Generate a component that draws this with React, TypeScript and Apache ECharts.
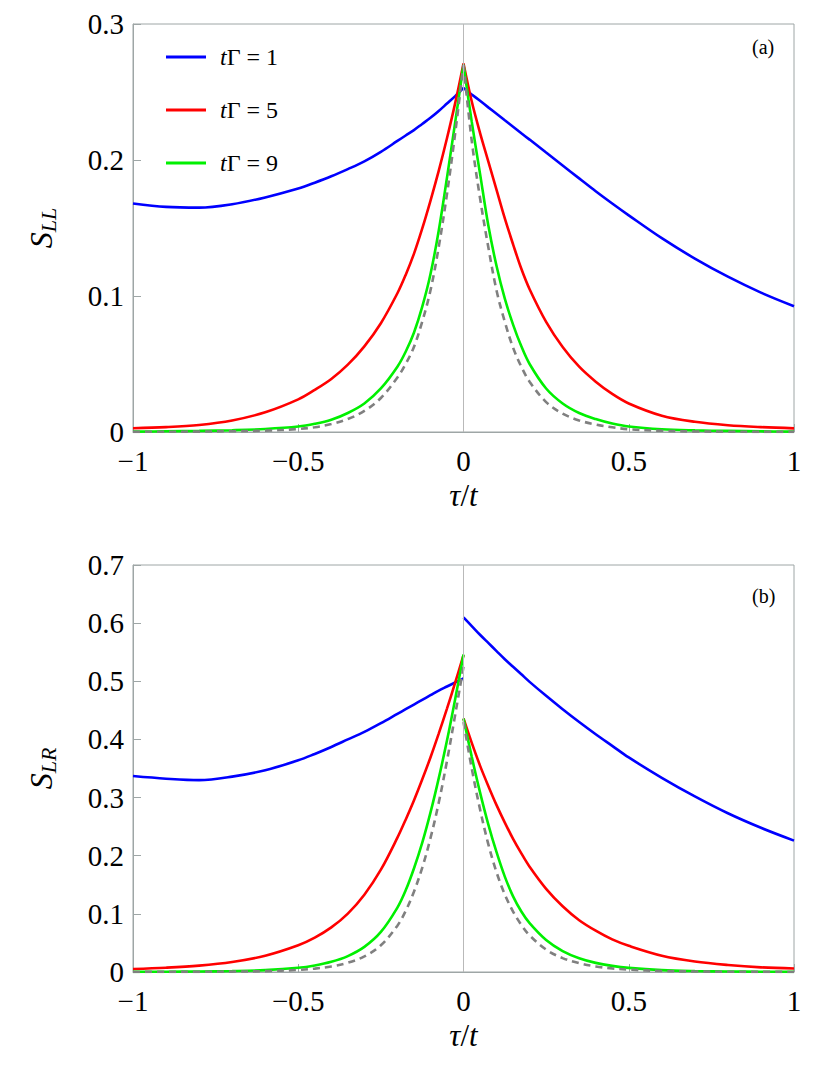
import React, { useEffect, useRef } from "react";
import * as echarts from "echarts";

// ---------- data ----------
const tauLeft = [-1, -0.9, -0.8, -0.7, -0.6, -0.5, -0.45, -0.4, -0.35, -0.3, -0.25, -0.2, -0.175, -0.15, -0.125, -0.1, -0.075, -0.05, -0.025, 0];
const tauRight = [0, 0.025, 0.05, 0.075, 0.1, 0.125, 0.15, 0.175, 0.2, 0.25, 0.3, 0.35, 0.4, 0.45, 0.5, 0.6, 0.7, 0.8, 0.9, 1];

// Panel (a): S_LL
const llBlueL = [0.168, 0.1655, 0.165, 0.1675, 0.1725, 0.179, 0.1833, 0.188, 0.1933, 0.199, 0.206, 0.214, 0.218, 0.222, 0.2265, 0.231, 0.236, 0.2415, 0.247, 0.253];
const llBlueR = [0.253, 0.2482, 0.2435, 0.2387, 0.234, 0.2292, 0.2245, 0.2197, 0.215, 0.2055, 0.196, 0.1865, 0.177, 0.168, 0.1593, 0.1425, 0.1275, 0.1142, 0.1025, 0.0925];
const llRedL = [0.0028, 0.0036, 0.0052, 0.0085, 0.0145, 0.024, 0.031, 0.039, 0.0495, 0.063, 0.08, 0.102, 0.1155, 0.131, 0.1495, 0.17, 0.192, 0.216, 0.242, 0.271];
const llRedR = [0.271, 0.243, 0.22, 0.199, 0.178, 0.157, 0.138, 0.12, 0.105, 0.081, 0.0625, 0.048, 0.037, 0.028, 0.021, 0.012, 0.0075, 0.005, 0.0036, 0.0027];
const llGreenL = [0.0003, 0.0005, 0.0008, 0.0013, 0.0022, 0.004, 0.006, 0.009, 0.014, 0.021, 0.032, 0.048, 0.059, 0.073, 0.092, 0.116, 0.148, 0.187, 0.228, 0.27];
const llGreenR = [0.27, 0.228, 0.19, 0.152, 0.122, 0.098, 0.079, 0.063, 0.05, 0.032, 0.021, 0.014, 0.0095, 0.0062, 0.004, 0.002, 0.0012, 0.0008, 0.0005, 0.0003];
const llGrayL = [0.0001, 0.0002, 0.0003, 0.0006, 0.001, 0.0022, 0.0035, 0.0058, 0.0095, 0.0155, 0.025, 0.04, 0.05, 0.0625, 0.081, 0.104, 0.136, 0.175, 0.22, 0.27];
const llGrayR = [0.27, 0.214, 0.172, 0.136, 0.104, 0.081, 0.062, 0.048, 0.037, 0.022, 0.0135, 0.0085, 0.0055, 0.0035, 0.002, 0.0009, 0.0004, 0.0002, 0.0001, 0.0001];

// Panel (b): S_LR
const lrBlueL = [0.337, 0.3325, 0.33, 0.336, 0.347, 0.364, 0.375, 0.387, 0.4, 0.413, 0.428, 0.444, 0.452, 0.46, 0.468, 0.476, 0.484, 0.491, 0.498, 0.505];
const lrBlueR = [0.61, 0.595, 0.58, 0.566, 0.552, 0.538, 0.525, 0.512, 0.499, 0.475, 0.452, 0.43, 0.409, 0.389, 0.369, 0.334, 0.302, 0.273, 0.248, 0.226];
const lrRedL = [0.0052, 0.0074, 0.011, 0.0173, 0.028, 0.046, 0.0591, 0.0767, 0.1005, 0.133, 0.176, 0.231, 0.262, 0.295, 0.331, 0.369, 0.41, 0.453, 0.498, 0.545];
const lrRedR = [0.436, 0.394, 0.355, 0.32, 0.287, 0.257, 0.229, 0.204, 0.181, 0.143, 0.113, 0.089, 0.071, 0.056, 0.045, 0.028, 0.018, 0.012, 0.008, 0.006];
const lrGreenL = [0.0003, 0.0005, 0.0008, 0.0016, 0.0033, 0.0073, 0.0113, 0.0175, 0.0274, 0.0432, 0.0689, 0.1108, 0.1404, 0.178, 0.222, 0.274, 0.333, 0.398, 0.47, 0.546];
const lrGreenR = [0.436, 0.37, 0.309, 0.254, 0.206, 0.164, 0.13, 0.104, 0.084, 0.055, 0.036, 0.0237, 0.0157, 0.0105, 0.0071, 0.0033, 0.0016, 0.0008, 0.0005, 0.0003];
const lrGrayL = [0.0001, 0.0002, 0.0003, 0.0007, 0.0015, 0.0036, 0.0058, 0.0095, 0.0159, 0.0268, 0.0459, 0.0797, 0.105, 0.138, 0.179, 0.23, 0.291, 0.363, 0.443, 0.525];
const lrGrayR = [0.43, 0.35, 0.28, 0.22, 0.1715, 0.1335, 0.104, 0.081, 0.063, 0.0385, 0.0239, 0.0151, 0.0096, 0.0062, 0.004, 0.0018, 0.0008, 0.0004, 0.0002, 0.0001];

const legendNames = ["tΓ = 1", "tΓ = 5", "tΓ = 9"];
const xTicks = [-1, -0.5, 0, 0.5, 1];
const panelLabels = ["(a)", "(b)"];

const SERIF = "Liberation Serif";
const FRAME = "#9ea6a6";
const BLUE = "#0000ff";
const RED = "#ff0000";
const GREEN = "#00f000";
const GRAY = "#808080";

const zip = (xs: number[], ys: number[]) => xs.map((x, i) => [x, ys[i]]);

const fmtX = (v: number) => (v === 0 ? "0" : v < 0 ? "\u2212" + String(-v) : String(v));
const fmtY = (v: number) => (Math.abs(v) < 1e-9 ? "0" : v.toFixed(1));

function curve(name: string | undefined, color: string, data: number[][], idx: number, dashed = false) {
  return {
    type: "line",
    name,
    xAxisIndex: idx,
    yAxisIndex: idx,
    data,
    showSymbol: false,
    symbol: "none",
    smooth: 0.35,
    color,
    itemStyle: { color },
    lineStyle: { color, width: 2.6, type: dashed ? [7, 5] : "solid" },
    z: 3,
    silent: true,
  };
}

function zeroLine(idx: number) {
  return {
    type: "line",
    xAxisIndex: idx,
    yAxisIndex: idx,
    data: [],
    z: 1,
    silent: true,
    markLine: {
      silent: true,
      symbol: "none",
      label: { show: false },
      lineStyle: { color: "#b9b9b9", width: 1, type: "solid" },
      data: [{ xAxis: 0 }],
      animation: false,
    },
  };
}

function xAxisCfg(idx: number) {
  return {
    type: "value",
    gridIndex: idx,
    min: -1,
    max: 1,
    interval: 0.5,
    name: "{i|τ}{n|/}{i|t}",
    nameLocation: "middle",
    nameGap: 48,
    nameTextStyle: {
      rich: {
        i: { fontFamily: SERIF, fontStyle: "italic", fontSize: 31, color: "#000" },
        n: { fontFamily: SERIF, fontSize: 31, color: "#000" },
      },
    },
    axisLine: { show: true, onZero: false, lineStyle: { color: FRAME, width: 1 } },
    axisTick: { show: true, inside: true, length: 8, lineStyle: { color: FRAME } },
    axisLabel: {
      formatter: fmtX,
      fontFamily: SERIF,
      fontSize: 29,
      color: "#000",
      margin: 14,
      customValues: xTicks,
    },
    splitLine: { show: false },
  };
}

function yAxisCfg(idx: number, max: number, sub: string) {
  return {
    type: "value",
    gridIndex: idx,
    min: 0,
    max,
    interval: 0.1,
    name: "{s|S}{b|" + sub + "}",
    nameLocation: "middle",
    nameGap: 74,
    nameRotate: 90,
    nameTextStyle: {
      rich: {
        s: { fontFamily: SERIF, fontStyle: "italic", fontSize: 32, color: "#000", lineHeight: 36 },
        b: { fontFamily: SERIF, fontStyle: "italic", fontSize: 22, color: "#000", lineHeight: 36, verticalAlign: "bottom" },
      },
    },
    axisLine: { show: true, onZero: false, lineStyle: { color: FRAME, width: 1 } },
    axisTick: { show: true, inside: true, length: 8, lineStyle: { color: FRAME } },
    axisLabel: { formatter: fmtY, fontFamily: SERIF, fontSize: 29, color: "#000", margin: 9 },
    splitLine: { show: false },
  };
}

export default function App() {
  const ref = useRef<HTMLDivElement>(null);

  useEffect(() => {
    if (!ref.current) return;
    const chart = echarts.init(ref.current, undefined, { renderer: "svg" });
    const option = {
      animation: false,
      backgroundColor: "#fff",
      textStyle: { fontFamily: SERIF },
      grid: [
        { left: 133, top: 24, width: 661, height: 408, show: true, borderColor: FRAME, borderWidth: 1, backgroundColor: "transparent" },
        { left: 133, top: 565, width: 661, height: 407, show: true, borderColor: FRAME, borderWidth: 1, backgroundColor: "transparent" },
      ],
      xAxis: [xAxisCfg(0), xAxisCfg(1)],
      yAxis: [yAxisCfg(0, 0.3, "LL"), yAxisCfg(1, 0.7, "LR")],
      legend: {
        data: legendNames,
        orient: "vertical",
        left: 161,
        top: 40,
        itemWidth: 40,
        itemHeight: 3,
        itemGap: 29,
        icon: "rect",
        selectedMode: false,
        formatter: (name: string) => "{i|t}{n|" + name.slice(1) + "}",
        textStyle: {
          fontFamily: SERIF,
          lineHeight: 24,
          rich: {
            i: { fontFamily: SERIF, fontStyle: "italic", fontSize: 24, color: "#000", padding: [0, 0, 0, 9], lineHeight: 24 },
            n: { fontFamily: SERIF, fontSize: 24, color: "#000", lineHeight: 24 },
          },
        },
      },
      graphic: [
        { type: "text", left: 752, top: 37, style: { text: panelLabels[0], font: "20px " + SERIF, fill: "#000" } },
        { type: "text", left: 752, top: 586, style: { text: panelLabels[1], font: "20px " + SERIF, fill: "#000" } },
      ],
      series: [
        zeroLine(0),
        zeroLine(1),
        curve(legendNames[0], BLUE, zip(tauLeft, llBlueL), 0),
        curve(legendNames[0], BLUE, zip(tauRight, llBlueR), 0),
        curve(legendNames[1], RED, zip(tauLeft, llRedL), 0),
        curve(legendNames[1], RED, zip(tauRight, llRedR), 0),
        curve(legendNames[2], GREEN, zip(tauLeft, llGreenL), 0),
        curve(legendNames[2], GREEN, zip(tauRight, llGreenR), 0),
        curve(undefined, GRAY, zip(tauLeft, llGrayL), 0, true),
        curve(undefined, GRAY, zip(tauRight, llGrayR), 0, true),
        curve(legendNames[0], BLUE, zip(tauLeft, lrBlueL), 1),
        curve(legendNames[0], BLUE, zip(tauRight, lrBlueR), 1),
        curve(legendNames[1], RED, zip(tauLeft, lrRedL), 1),
        curve(legendNames[1], RED, zip(tauRight, lrRedR), 1),
        curve(legendNames[2], GREEN, zip(tauLeft, lrGreenL), 1),
        curve(legendNames[2], GREEN, zip(tauRight, lrGreenR), 1),
        curve(undefined, GRAY, zip(tauLeft, lrGrayL), 1, true),
        curve(undefined, GRAY, zip(tauRight, lrGrayR), 1, true),
      ],
    };
    chart.setOption(option as any);
    return () => chart.dispose();
  }, []);

  return (
    <div
      ref={ref}
      style={{ position: "absolute", left: 0, top: 0, width: 830, height: 1081, background: "#fff" }}
    />
  );
}
